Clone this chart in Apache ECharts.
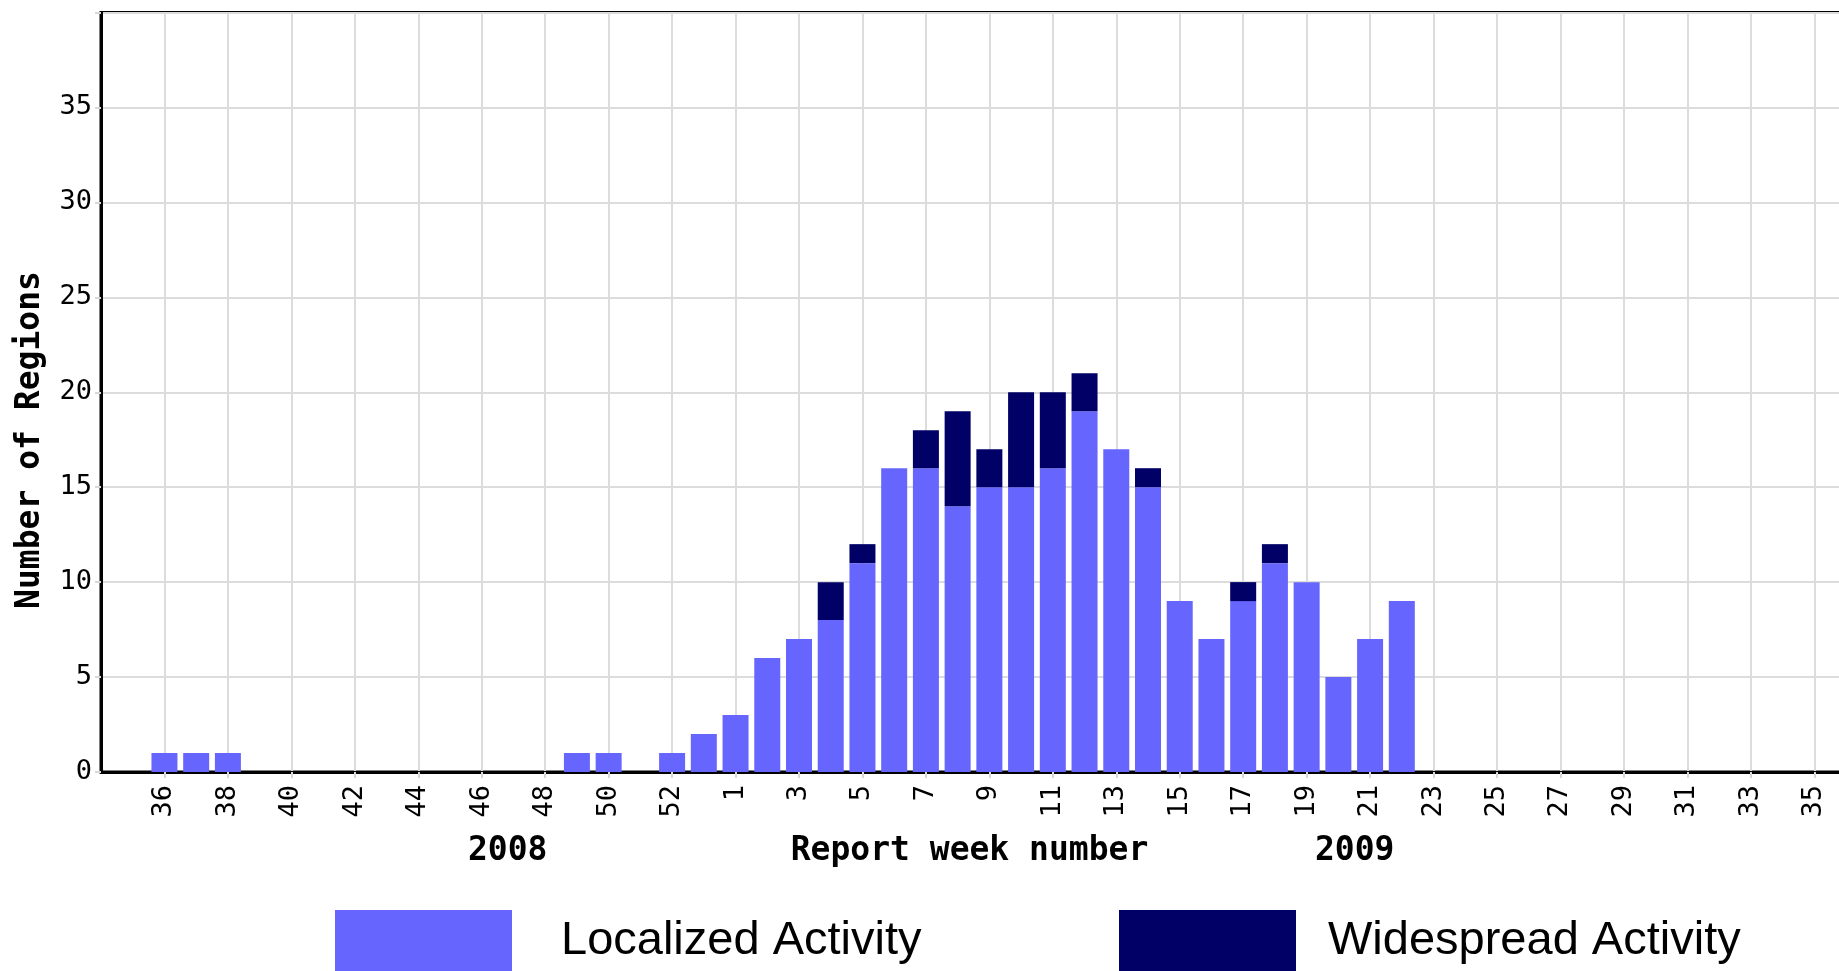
<!DOCTYPE html>
<html>
<head>
<meta charset="utf-8">
<script src="https://cdn.jsdelivr.net/npm/echarts@6/dist/echarts.min.js"></script>
<style>
html,body{margin:0;padding:0;background:#fff;overflow:hidden;}
#chart{width:1846px;height:971px;}
</style>
</head>
<body>
<div id="chart"></div>
<script>
// Report weeks: end of 2008 season then 2009
const weeks2008 = ['34','35','36','37','38','39','40','41','42','43','44','45','46','47','48','49','50','51','52','53'];
const weeks2009 = ['1','2','3','4','5','6','7','8','9','10','11','12','13','14','15','16','17','18','19','20','21','22','23','24','25','26','27','28','29','30','31','32','33','34','35','36'];

const localized2008 = [null,null,1,1,1,null,null,null,null,null,null,null,null,null,null,1,1,null,1,2];
const localized2009 = [3,6,7,8,11,16,16,14,15,15,16,19,17,15,9,7,9,11,10,5,7,9,
  null,null,null,null,null,null,null,null,null,null,null,null,null,null];

const widespread2008 = [null,null,null,null,null,null,null,null,null,null,null,null,null,null,null,null,null,null,null,null];
const widespread2009 = [null,null,null,2,1,null,2,5,2,5,4,2,null,1,null,null,1,1,
  null,null,null,null,null,null,null,null,null,null,null,null,null,null,null,null,null,null];

const yTicks = [0,5,10,15,20,25,30,35];
const yearLabels = ['2008','2009'];
const seriesNames = ['Localized Activity','Widespread Activity'];
const yTitle = 'Number of Regions';
const xTitle = 'Report week number';

const categories = weeks2008.concat(weeks2009);
const localized = localized2008.concat(localized2009);
const widespread = widespread2008.concat(widespread2009);

const monoFont = '"DejaVu Sans Mono", "Liberation Mono", monospace';
const showIdx = (i) => i >= 2 && i <= 54 && i % 2 === 0;

const chart = echarts.init(document.getElementById('chart'), null, {renderer:'canvas'});
chart.setOption({
  backgroundColor: '#ffffff',
  animation: false,
  grid: {
    left: 101, top: 12.5, right: 0, bottom: 199,
    show: true, borderColor: '#000', borderWidth: 3, backgroundColor: 'transparent'
  },
  legend: [
    {
      data: [seriesNames[0]], left: 335, top: 910, padding: 0,
      icon: 'rect', itemWidth: 177, itemHeight: 62,
      textStyle: { fontFamily: '"Liberation Sans", Arial, sans-serif', fontSize: 47, color: '#000', padding: [6,0,0,44], lineHeight: 56 }
    },
    {
      data: [seriesNames[1]], left: 1119, top: 910, padding: 0,
      icon: 'rect', itemWidth: 177, itemHeight: 62,
      textStyle: { fontFamily: '"Liberation Sans", Arial, sans-serif', fontSize: 47, color: '#000', padding: [6,0,0,27], lineHeight: 56 }
    }
  ],
  xAxis: {
    type: 'category',
    data: categories,
    boundaryGap: false,
    name: xTitle,
    nameLocation: 'middle',
    nameGap: 63,
    nameTextStyle: { fontFamily: monoFont, fontWeight: 'bold', fontSize: 33, color: '#000', padding: [0,8,0,0] },
    axisLine: { show: true, lineStyle: { color: '#000', width: 3 } },
    axisTick: { show: true, interval: (i) => showIdx(i), length: 6, lineStyle: { color: '#d8d8d8', width: 2 } },
    axisLabel: { interval: (i) => showIdx(i), rotate: 90, margin: 13, fontFamily: monoFont, fontSize: 27, color: '#000' },
    splitLine: { show: true, interval: (i) => showIdx(i), lineStyle: { color: '#dcdcdc', width: 2 } }
  },
  yAxis: {
    type: 'value',
    min: 0, max: 40, interval: 5,
    axisLine: { show: true, lineStyle: { color: '#000', width: 3 } },
    axisTick: { show: true, length: 6, lineStyle: { color: '#d8d8d8', width: 2 } },
    axisLabel: {
      margin: 9, fontFamily: monoFont, fontSize: 27, color: '#000',
      formatter: (v) => yTicks.indexOf(v) >= 0 ? String(v) : ''
    },
    splitLine: { show: true, lineStyle: { color: '#dcdcdc', width: 2 } }
  },
  graphic: [
    { type: 'text', x: 30, y: 440, rotation: Math.PI / 2,
      style: { text: yTitle, font: 'bold 33px ' + monoFont, fill: '#000', align: 'center', verticalAlign: 'middle' } },
    { type: 'text', left: 468, top: 835, style: { text: yearLabels[0], font: 'bold 33px ' + monoFont, fill: '#000' } },
    { type: 'text', left: 1315, top: 835, style: { text: yearLabels[1], font: 'bold 33px ' + monoFont, fill: '#000' } }
  ],
  series: [
    { name: seriesNames[0], type: 'bar', stack: 'act', data: localized, barWidth: 26, itemStyle: { color: '#6666ff' } },
    { name: seriesNames[1], type: 'bar', stack: 'act', data: widespread, barWidth: 26, itemStyle: { color: '#000066' } }
  ]
});
</script>
</body>
</html>
